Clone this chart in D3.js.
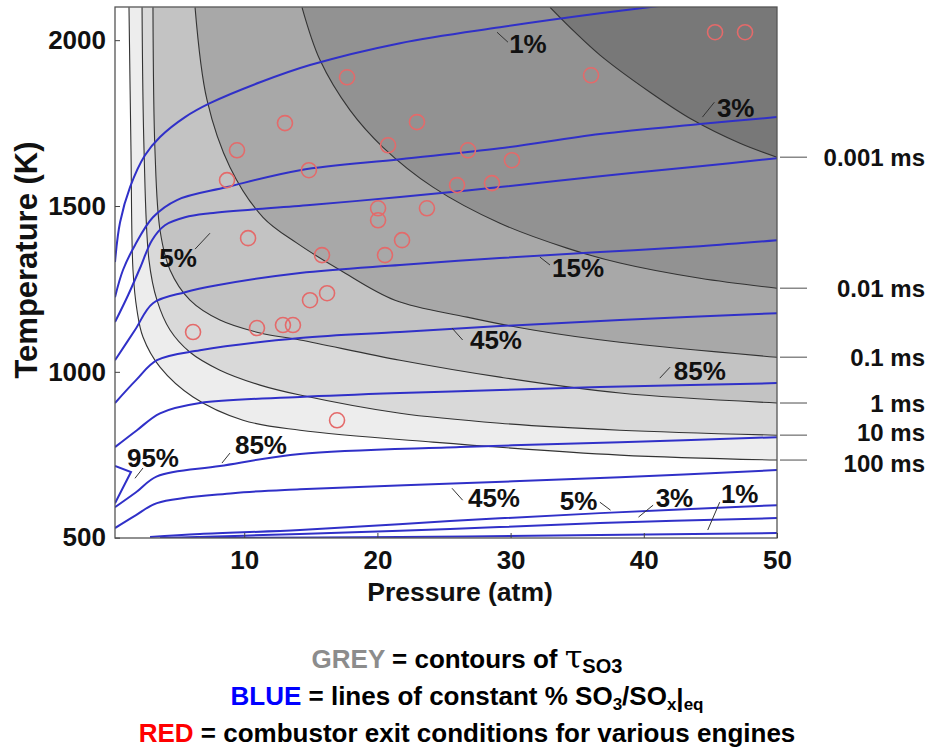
<!DOCTYPE html>
<html>
<head>
<meta charset="utf-8">
<script src="https://cdn.jsdelivr.net/npm/d3@7"></script>
<style>
  body { margin: 0; background: #fff; }
  text { font-family: "Liberation Sans", Arial, sans-serif; font-weight: bold; }
</style>
</head>
<body>
<svg id="chart"></svg>
<script>
// ---- data: pressure (atm), temperature (K) ----
const pressureTicks = [10, 20, 30, 40, 50];
const temperatureTicks = [500, 1000, 1500, 2000];

// grey contours of tau_SO3 (residence time)
const tauLabels = ["100 ms", "10 ms", "1 ms", "0.1 ms", "0.01 ms", "0.001 ms"];
const tau100ms = [[1.35,2099],[1.50,1668],[1.65,1307],[1.95,1186],[2.40,1105],[3.68,1014],[6.16,924],[9.91,854],[14.19,824],[24.17,788],[38.21,749],[50,734]];
const tau10ms = [[2.33,2099],[2.48,1668],[2.85,1337],[3.45,1216],[4.43,1126],[5.93,1059],[8.18,1005],[11.19,960],[14.19,930],[21.70,875],[29.20,845],[38.21,824],[50,809]];
const tau1ms = [[3.15,2099],[3.30,1668],[3.68,1427],[4.43,1307],[5.93,1216],[8.18,1156],[11.19,1117],[14.19,1096],[21.70,1035],[29.20,984],[38.21,936],[50,906]];
const tau01ms = [[6.31,2099],[7.21,1819],[8.93,1617],[11.41,1466],[13.96,1388],[17.19,1307],[21.32,1216],[26.73,1165],[31.68,1126],[38.21,1089],[50,1044]];
const tau001ms = [[14.34,2099],[15.69,1940],[17.94,1789],[20.42,1677],[24.17,1557],[29.20,1448],[34.23,1373],[38.21,1328],[44.22,1282],[50,1252]];
const tau0001ms = [[32.96,2099],[34.83,2024],[36.71,1955],[40.47,1843],[43.69,1759],[47.22,1689],[50,1647]];
const bandColors = ["#ededed", "#d9d9d9", "#c3c3c3", "#a8a8a8", "#929292", "#787878"];

// blue lines of constant % SO3/SOx at equilibrium
const so3_1 = [[0.30,1331],[0.68,1451],[1.43,1557],[2.55,1653],[3.68,1708],[5.56,1768],[7.43,1810],[11.19,1873],[14.94,1925],[21.70,1991],[29.20,2039],[36.71,2081],[44.22,2118]];
const so3_3 = [[0.30,1225],[0.90,1307],[1.80,1382],[3.15,1466],[4.95,1518],[8.71,1557],[14.19,1608],[21.70,1641],[29.20,1674],[36.71,1717],[44.22,1747],[50,1768]];
const so3_5 = [[0.30,1150],[1.28,1231],[2.18,1313],[3.08,1397],[4.05,1442],[5.56,1466],[7.43,1478],[14.94,1503],[21.70,1527],[29.20,1557],[36.71,1590],[44.22,1620],[50,1644]];
const so3_15 = [[0.30,1035],[1.80,1126],[3.15,1207],[5.56,1240],[7.96,1261],[14.19,1298],[21.70,1322],[29.20,1343],[36.71,1361],[44.22,1379],[50,1397]];
const so3_45 = [[0.30,906],[1.88,975],[3.45,1035],[6.68,1065],[14.19,1102],[21.70,1120],[29.20,1138],[38.21,1156],[50,1177]];
const so3_85 = [[0.30,773],[1.95,824],[3.68,875],[6.68,906],[14.19,924],[21.70,936],[29.20,945],[36.71,954],[50,966]];
const so3_95 = [[0.30,716],[1.50,698],[0.30,604]];
const so3_85low = [[0.30,592],[1.88,637],[3.45,685],[8.18,716],[14.19,752],[26.20,773],[38.21,788],[50,803]];
const so3_45low = [[0.30,529],[1.88,568],[3.45,604],[9.16,634],[14.19,646],[26.20,664],[38.21,682],[50,704]];
const so3_5low = [[2.93,502],[6.68,511],[14.19,523],[25.45,550],[36.71,574],[50,598]];
const so3_3low = [[3.68,499],[14.19,511],[25.45,526],[36.71,544],[50,559]];
const so3_1low = [[6.68,499],[21.70,502],[36.71,508],[50,514]];

// line labels: text, label centre (P, T), leader from (P, T) to (P, T)
const so3Labels = [
  ["1%", 31.3, 1991, 28.98, 2024, 29.8, 1994],
  ["3%", 46.9, 1798, 44.4, 1768, 45.3, 1813],
  ["5%", 5.03, 1343, 6.31, 1370, 7.43, 1418],
  ["15%", 35.06, 1313, 32.2, 1346, 32.96, 1322],
  ["45%", 28.9, 1096, 25.6, 1132, 26.4, 1096],
  ["85%", 44.2, 1005, 41.2, 981, 41.97, 1014],
  ["95%", 3.15, 740, 1.80, 679, 2.40, 710],
  ["85%", 11.26, 779, 8.33, 725, 8.93, 755],
  ["45%", 28.75, 622, 25.6, 649, 26.4, 613],
  ["5%", 35.1, 613, 36.7, 607, 37.5, 583],
  ["3%", 42.3, 622, 40.7, 598, 39.6, 562],
  ["1%", 47.2, 634, 45.7, 607, 44.8, 523]
];

// red: combustor exit conditions for various engines
const enginePressure = [45.35,47.6,17.72,36.04,13.06,22.97,9.46,20.8,26.8,8.71,30.1,14.86,25.98,28.6,20.05,20.05,23.72,10.29,21.85,15.84,20.57,14.94,16.22,6.16,10.96,12.91,13.66,16.97];
const engineTemperature = [2024,2024,1888,1894,1750,1753,1668,1683,1668,1578,1638,1608,1563,1569,1493,1457,1493,1403,1397,1352,1352,1216,1237,1120,1132,1141,1141,854];

// ---- layout ----
const W = 929, H = 750;
const svg = d3.select("#chart").attr("width", W).attr("height", H);

const x = d3.scaleLinear().domain([0.3, 50]).range([115, 777]);
const y = d3.scaleLinear().domain([499, 2100]).range([538, 7]);

svg.append("defs").append("clipPath").attr("id", "plot")
  .append("rect")
  .attr("x", x(0.3)).attr("y", y(2100))
  .attr("width", x(50) - x(0.3)).attr("height", y(499) - y(2100));

const plot = svg.append("g").attr("clip-path", "url(#plot)");

plot.append("rect")
  .attr("x", x(0.3)).attr("y", y(2100))
  .attr("width", x(50) - x(0.3)).attr("height", y(499) - y(2100))
  .attr("fill", "#fff");

const smooth = d3.line().x(d => x(d[0])).y(d => y(d[1])).curve(d3.curveCatmullRom.alpha(0.5));

const contours = [tau100ms, tau10ms, tau1ms, tau01ms, tau001ms, tau0001ms];

/* grey bands: each contour closed off at the top-right corner */
contours.forEach(function (c, i) {
  plot.append("path")
    .attr("d", smooth(c) + "L" + x(50) + "," + y(2100) + "Z")
    .attr("fill", bandColors[i]);
});

contours.forEach(function (c) {
  plot.append("path")
    .attr("d", smooth(c))
    .attr("fill", "none")
    .attr("stroke", "#333")
    .attr("stroke-width", 1.1);
});

/* blue lines */
const so3Lines = [so3_1, so3_3, so3_5, so3_15, so3_45, so3_85, so3_95, so3_85low, so3_45low, so3_5low, so3_3low, so3_1low];
const straight = d3.line().x(d => x(d[0])).y(d => y(d[1]));
so3Lines.forEach(function (l, i) {
  plot.append("path")
    .attr("d", i == 6 ? straight(l) : smooth(l))
    .attr("fill", "none")
    .attr("stroke", "#3030c8")
    .attr("stroke-width", 2);
});

/* engines */
plot.selectAll("circle.engine")
  .data(d3.range(enginePressure.length))
  .enter().append("circle")
  .attr("class", "engine")
  .attr("cx", i => x(enginePressure[i]))
  .attr("cy", i => y(engineTemperature[i]))
  .attr("r", 7.5)
  .attr("fill", "none")
  .attr("stroke", "#e46a6a")
  .attr("stroke-width", 1.6);

/* line labels */
const lab = svg.append("g");
so3Labels.forEach(function (d) {
  lab.append("line")
    .attr("x1", x(d[3])).attr("y1", y(d[4]))
    .attr("x2", x(d[5])).attr("y2", y(d[6]))
    .attr("stroke", "#333").attr("stroke-width", 1);
  lab.append("text")
    .attr("x", x(d[1])).attr("y", y(d[2]))
    .attr("dy", "0.36em")
    .attr("text-anchor", "middle")
    .attr("font-size", 26)
    .attr("fill", "#111")
    .text(d[0]);
});

/* border */
svg.append("rect")
  .attr("x", x(0.3)).attr("y", y(2100))
  .attr("width", x(50) - x(0.3)).attr("height", y(499) - y(2100))
  .attr("fill", "none").attr("stroke", "#555").attr("stroke-width", 1.3);

/* axes */
const yAxis = svg.append("g")
  .attr("transform", "translate(" + x(0.3) + ",0)")
  .call(d3.axisLeft(y).tickValues(temperatureTicks).tickFormat(d3.format("d")).tickSize(-5).tickPadding(9));
const xAxis = svg.append("g")
  .attr("transform", "translate(0," + y(499) + ")")
  .call(d3.axisBottom(x).tickValues(pressureTicks).tickFormat(d3.format("d")).tickSize(-5).tickPadding(13));
[xAxis, yAxis].forEach(function (a) {
  a.select(".domain").remove();
  a.selectAll(".tick line").attr("stroke", "#444");
  a.selectAll(".tick text")
    .attr("font-size", 26)
    .attr("font-family", "'Liberation Sans', Arial, sans-serif")
    .attr("fill", "#111");
});

svg.append("text")
  .attr("x", 460).attr("y", 601)
  .attr("text-anchor", "middle").attr("font-size", 26.5).attr("fill", "#111")
  .text("Pressure (atm)");

svg.append("text")
  .attr("transform", "translate(37," + 260 + ") rotate(-90)")
  .attr("text-anchor", "middle").attr("font-size", 31).attr("fill", "#111")
  .text("Temperature (K)");

/* tau labels on the right; the two lowest sit a little apart so they don't collide */
contours.forEach(function (c, i) {
  const end = c[c.length - 1];
  const nudge = i == 0 ? 3 : (i == 1 ? -3 : 0);
  svg.append("line")
    .attr("x1", x(50) + 3).attr("x2", x(50) + 30)
    .attr("y1", y(end[1])).attr("y2", y(end[1]))
    .attr("stroke", "#888").attr("stroke-width", 1.5);
  svg.append("text")
    .attr("x", 925).attr("y", y(end[1]) + nudge)
    .attr("dy", "0.36em").attr("text-anchor", "end")
    .attr("font-size", 24).attr("fill", "#111")
    .text(tauLabels[i]);
});

/* legend below */
const leg = svg.append("g").attr("font-size", 26).attr("text-anchor", "middle");

const l1 = leg.append("text").attr("x", 467).attr("y", 668);
l1.append("tspan").attr("fill", "#8c8c8c").text("GREY");
l1.append("tspan").attr("fill", "#000").text(" = contours of ");
l1.append("tspan").attr("fill", "#000").attr("font-weight", "normal").attr("font-size", 32)
  .attr("font-family", "'DejaVu Serif', serif").text("τ");
l1.append("tspan").attr("fill", "#000").attr("font-size", 20).attr("dy", 5).text("SO3");

const l2 = leg.append("text").attr("x", 467).attr("y", 705);
l2.append("tspan").attr("fill", "#0000ff").text("BLUE");
l2.append("tspan").attr("fill", "#000").text(" = lines of constant % SO");
l2.append("tspan").attr("fill", "#000").attr("font-size", 17).attr("dy", 5).text("3");
l2.append("tspan").attr("fill", "#000").attr("dy", -5).text("/SO");
l2.append("tspan").attr("fill", "#000").attr("font-size", 17).attr("dy", 5).text("x");
l2.append("tspan").attr("fill", "#000").attr("dy", -3).text("|");
l2.append("tspan").attr("fill", "#000").attr("font-size", 17).attr("dy", 3).text("eq");

const l3 = leg.append("text").attr("x", 467).attr("y", 742);
l3.append("tspan").attr("fill", "#ff0000").text("RED");
l3.append("tspan").attr("fill", "#000").text(" = combustor exit conditions for various engines");
</script>
</body>
</html>
